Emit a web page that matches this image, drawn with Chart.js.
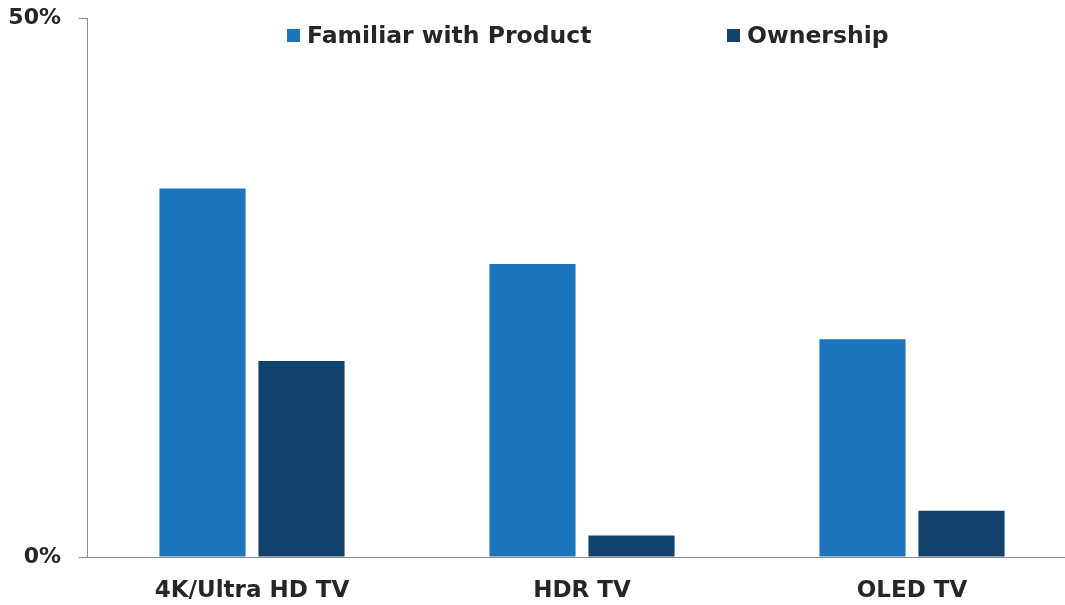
<!DOCTYPE html>
<html>
<head>
<meta charset="utf-8">
<script src="https://cdn.jsdelivr.net/npm/chart.js@4"></script>
<style>
  html, body { margin: 0; padding: 0; background: #fff; overflow: hidden; }
  #wrap { position: relative; width: 1065px; height: 605px; overflow: hidden; }
  #tvChart { position: absolute; left: 0; top: -13px; }
  #legend { position: absolute; top: 18px; left: 0; width: 1065px; height: 34px;
            font-family: 'DejaVu Sans', sans-serif; font-weight: bold; font-size: 23.5px; color: #262626; }
  .item { position: absolute; top: 0; white-space: nowrap; line-height: 34px; }
  .box { display: inline-block; width: 13px; height: 13px; margin-right: 7px; vertical-align: 1px; }
</style>
</head>
<body>
<div id="wrap">
  <canvas id="tvChart" width="1077" height="618"></canvas>
  <div id="legend"></div>
</div>
<script>
const categories = ['4K/Ultra HD TV', 'HDR TV', 'OLED TV']
const familiar = [34.2, 27.2, 20.2]
const ownership = [18.2, 2.0, 4.3]
const seriesNames = ['Familiar with Product', 'Ownership']
const seriesColors = ['#1c75bc', '#11426d']
const legendLeft = [287, 727]

const font = "'DejaVu Sans', sans-serif"

let legendEl = document.getElementById('legend')
seriesNames.forEach((name, i) => {
    let item = document.createElement('div')
    item.className = 'item'
    item.style.left = legendLeft[i] + 'px'
    item.innerHTML = '<span class="box" style="background:' + seriesColors[i] + '"></span>' + name
    legendEl.appendChild(item)
})

const ctx = document.getElementById('tvChart').getContext('2d')
const tvChart = new Chart(ctx, {
    type: 'bar',
    data: {
        labels: categories,
        datasets: [
            { label: seriesNames[0], data: familiar, backgroundColor: seriesColors[0],
              categoryPercentage: 0.6, barPercentage: 0.87 },
            { label: seriesNames[1], data: ownership, backgroundColor: seriesColors[1],
              categoryPercentage: 0.6, barPercentage: 0.87 }
        ]
    },
    options: {
        responsive: false,
        animation: false,
        layout: { padding: { top: 0, right: 0, left: 0, bottom: 0 } },
        plugins: { legend: { display: false }, tooltip: { enabled: false } },
        scales: {
            x: {
                grid: { display: false },
                border: { display: false },
                ticks: { color: '#262626', font: { family: font, size: 23, weight: 'bold' }, padding: 12 },
                afterFit: (scale) => { scale.height = 48 }
            },
            y: {
                min: 0,
                max: 50,
                grid: { drawOnChartArea: false, drawTicks: true, tickLength: 8, color: '#8c8c8c' },
                border: { color: '#8c8c8c', width: 1 },
                ticks: {
                    stepSize: 50,
                    color: '#262626',
                    padding: 18,
                    font: { family: font, size: 22, weight: 'bold' },
                    callback: (v) => v + '%'
                },
                afterFit: (scale) => { scale.width = 87 }
            }
        }
    },
    plugins: [{
        id: 'baseline',
        afterDraw(chart) {
            const c = chart.ctx
            const y = chart.scales.y.getPixelForValue(0)
            c.save()
            c.strokeStyle = '#8c8c8c'
            c.lineWidth = 1
            c.beginPath()
            c.moveTo(chart.chartArea.left, Math.round(y) + 0.5)
            c.lineTo(chart.width, Math.round(y) + 0.5)
            c.stroke()
            c.restore()
        }
    }]
})
</script>
</body>
</html>
